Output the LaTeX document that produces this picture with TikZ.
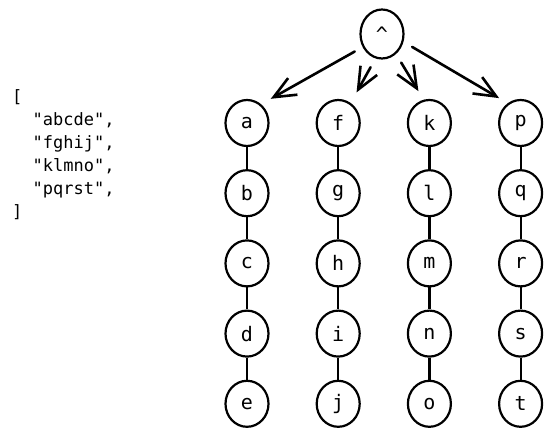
\documentclass[tikz,border=0pt]{standalone}
\usepackage{fontspec}
\setmonofont{DejaVu Sans Mono}
\usetikzlibrary{arrows.meta,positioning,shapes.geometric}
\tikzset{%
  % node classes
  trie/.style={draw, ellipse, line width=2.2pt, minimum width=43pt, minimum height=46pt,
    inner sep=0pt, font=\ttfamily\fontsize{20}{20}\selectfont},
  trieroot/.style={trie, minimum height=49pt},
  listing/.style={align=left, inner sep=0pt, font=\ttfamily\fontsize{17}{23}\selectfont},
  % edge styles
  link/.style={line width=2.2pt},
  rel/.style={-{Straight Barb[length=22pt,width=19pt]}, line width=2.6pt,
    line cap=round, line join=round},
}
\newcommand{\trienode}[4][]{%
  % #1 = extra TikZ options
  % #2 = class (trie | trieroot)
  % #3 = node name
  % #4 = letter
  \node[#2, #1] (#3) {#4};
}

\begin{document}
\begin{tikzpicture}[x=1pt, y=1pt, node distance=22pt and 46pt]
  \useasboundingbox (0,0) rectangle (552,-438);

  \node[listing, anchor=west] (words) at (12,-155) {[\\
    \phantom{xx}"abcde",\\
    \phantom{xx}"fghij",\\
    \phantom{xx}"klmno",\\
    \phantom{xx}"pqrst",\\
    ]};

  \trienode[at={(382,-34)}]{trieroot}{top}{\textasciicircum};

  \trienode[at={(247,-123)}]{trie}{a}{a};
  \trienode[below=of a]{trie}{b}{b};
  \trienode[below=of b]{trie}{c}{c};
  \trienode[below=of c]{trie}{d}{d};
  \trienode[below=of d]{trie}{e}{e};

  \trienode[right=of a]{trie}{f}{f};
  \trienode[below=of f]{trie}{g}{g};
  \trienode[below=of g]{trie}{h}{h};
  \trienode[below=of h]{trie}{i}{i};
  \trienode[below=of i]{trie}{j}{j};

  \trienode[right=of f]{trie}{k}{k};
  \trienode[below=of k]{trie}{l}{l};
  \trienode[below=of l]{trie}{m}{m};
  \trienode[below=of m]{trie}{n}{n};
  \trienode[below=of n]{trie}{o}{o};

  \trienode[right=of k]{trie}{p}{p};
  \trienode[below=of p]{trie}{q}{q};
  \trienode[below=of q]{trie}{r}{r};
  \trienode[below=of r]{trie}{s}{s};
  \trienode[below=of s]{trie}{t}{t};

  \draw[rel, shorten <=9pt, shorten >=11pt] (top.214) -- (a.53);
  \draw[rel, shorten <=10pt, shorten >=12pt] (top.255) -- (f.58);
  \draw[rel, shorten <=10pt, shorten >=10pt] (top.305) -- (k.104);
  \draw[rel, shorten <=10pt, shorten >=10pt] (top.340) -- (p.123);

  \draw[link] (a) -- (b);
  \draw[link] (b) -- (c);
  \draw[link] (c) -- (d);
  \draw[link] (d) -- (e);
  \draw[link] (f) -- (g);
  \draw[link] (g) -- (h);
  \draw[link] (h) -- (i);
  \draw[link] (i) -- (j);
  \draw[link] (k) -- (l);
  \draw[link] (l) -- (m);
  \draw[link] (m) -- (n);
  \draw[link] (n) -- (o);
  \draw[link] (p) -- (q);
  \draw[link] (q) -- (r);
  \draw[link] (r) -- (s);
  \draw[link] (s) -- (t);

\end{tikzpicture}
\end{document}
